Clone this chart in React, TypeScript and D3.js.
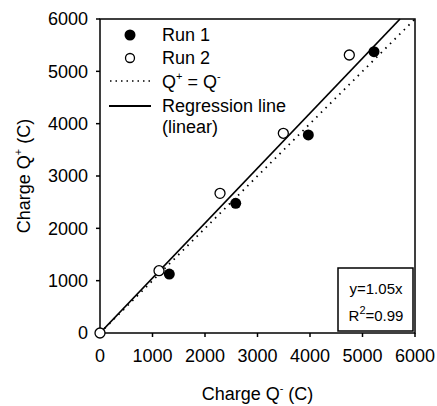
import React from 'react';
import * as d3 from 'd3';

// values (Coulomb)
const run1X = [1320, 2585, 3968, 5219];
const run1Y = [1127, 2478, 3784, 5376];
const run2X = [0, 1124, 2286, 3492, 4749];
const run2Y = [0, 1190, 2669, 3816, 5312];
const ticks = [0, 1000, 2000, 3000, 4000, 5000, 6000];
const slope = 1.05;
const r2 = 0.99;

const W = 437;
const H = 406;
const margin = { left: 100, right: 22, top: 19, bottom: 73 };
const font = 'Arial, "Liberation Sans", sans-serif';

export default function App() {
	const xScale = d3.scaleLinear().domain([0, 6000]).range([margin.left, W - margin.right]);
	const yScale = d3.scaleLinear().domain([0, 6000]).range([H - margin.bottom, margin.top]);

	const line = d3
		.line<[number, number]>()
		.x(d => xScale(d[0]))
		.y(d => yScale(d[1]));

	const x0 = xScale(0);
	const x1 = xScale(6000);
	const y0 = yScale(0);
	const y1 = yScale(6000);

	// regression ends where it leaves the top of the box
	const regEnd = 6000 / slope;

	const run1 = run1X.map((x, i) => [x, run1Y[i]]);
	const run2 = run2X.map((x, i) => [x, run2Y[i]]);

	return (
		<svg width={W} height={H} style={{ position: 'absolute', left: 0, top: 0 }} fontFamily={font}>
			<rect x={0} y={0} width={W} height={H} fill="#fff" />

			{/* identity and regression lines */}
			<path d={line([[0, 0], [6000, 6000]]) || ''} fill="none" stroke="#000" strokeWidth={1.8} strokeDasharray="1.5,5" />
			<path d={line([[0, 0], [regEnd, 6000]]) || ''} fill="none" stroke="#000" strokeWidth={1.8} />

			{/* frame */}
			<rect x={x0} y={y1} width={x1 - x0} height={y0 - y1} fill="none" stroke="#000" strokeWidth={1.5} />

			{/* y ticks */}
			{ticks.map(t => (
				<g key={'y' + t}>
					<line x1={x0 - 4} x2={x0} y1={yScale(t)} y2={yScale(t)} stroke="#000" strokeWidth={1.5} />
					<text x={x0 - 12} y={yScale(t)} dy="0.36em" textAnchor="end" fontSize={18}>
						{t}
					</text>
				</g>
			))}
			{/* x ticks */}
			{ticks.map(t => (
				<g key={'x' + t}>
					<line x1={xScale(t)} x2={xScale(t)} y1={y0} y2={y0 + 4} stroke="#000" strokeWidth={1.5} />
					<text x={xScale(t)} y={y0 + 29} textAnchor="middle" fontSize={18}>
						{t}
					</text>
				</g>
			))}

			{/* points */}
			{run1.map((d, i) => (
				<circle key={'a' + i} cx={xScale(d[0])} cy={yScale(d[1])} r={5.5} fill="#000" />
			))}
			{run2.map((d, i) => (
				<circle key={'b' + i} cx={xScale(d[0])} cy={yScale(d[1])} r={5} fill="#fff" stroke="#000" strokeWidth={1.3} />
			))}

			{/* legend */}
			<circle cx={130} cy={35} r={5.5} fill="#000" />
			<text x={162} y={41} fontSize={18}>Run 1</text>
			<circle cx={130} cy={58} r={4.5} fill="#fff" stroke="#000" strokeWidth={1.3} />
			<text x={162} y={64} fontSize={18}>Run 2</text>
			<line x1={110} x2={150} y1={81} y2={81} stroke="#000" strokeWidth={1.5} strokeDasharray="1.5,4" />
			<text x={162} y={88} fontSize={18}>
				Q<tspan dy={-8} fontSize={11}>+</tspan>
				<tspan dy={8}> = Q</tspan>
				<tspan dy={-8} fontSize={11}>-</tspan>
			</text>
			<line x1={109} x2={151} y1={106} y2={106} stroke="#000" strokeWidth={1.8} />
			<text x={162} y={112} fontSize={18}>Regression line</text>
			<text x={162} y={133} fontSize={18}>(linear)</text>

			{/* equation box */}
			<rect x={338} y={268} width={75} height={63} fill="#fff" stroke="#000" strokeWidth={1.5} />
			<text x={376} y={294} textAnchor="middle" fontSize={15}>y={slope}x</text>
			<text x={376} y={321} textAnchor="middle" fontSize={15}>
				R<tspan dy={-7} fontSize={11}>2</tspan>
				<tspan dy={7}>={r2}</tspan>
			</text>

			{/* axis titles */}
			<text x={(x0 + x1) / 2} y={400} textAnchor="middle" fontSize={18}>
				Charge Q<tspan dy={-8} fontSize={11}>-</tspan>
				<tspan dy={8}> (C)</tspan>
			</text>
			<text transform={`translate(30,${(y0 + y1) / 2}) rotate(-90)`} textAnchor="middle" fontSize={18}>
				Charge Q<tspan dy={-8} fontSize={11}>+</tspan>
				<tspan dy={8}> (C)</tspan>
			</text>
		</svg>
	);
}
